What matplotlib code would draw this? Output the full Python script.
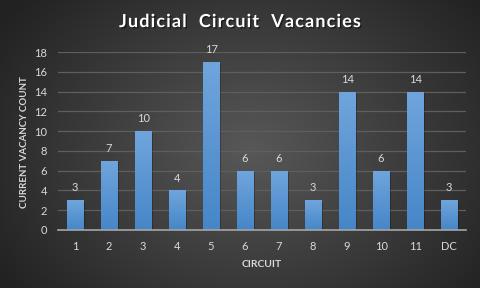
import numpy as np
import matplotlib.pyplot as plt
from matplotlib import patheffects as pe

plt.rcParams['font.family'] = ['Lato', 'DejaVu Sans']

circuits = ["1", "2", "3", "4", "5", "6", "7", "8", "9", "10", "11", "DC"]
vacancies = [3, 7, 10, 4, 17, 6, 6, 3, 14, 6, 14, 3]
y_ticks = [0, 2, 4, 6, 8, 10, 12, 14, 16, 18]

TEXT = "#d9d9d9"

fig = plt.figure(figsize=(4.8, 2.88), dpi=100)

# radial background
bg = fig.add_axes([0, 0, 1, 1])
yy, xx = np.mgrid[0:288, 0:480]
r = np.sqrt(((xx - 250) / 300.0) ** 2 + ((yy - 150) / 230.0) ** 2)
r = np.clip(r, 0, 1)
c0 = np.array([0x58, 0x58, 0x58]) / 255.0
c1 = np.array([0x22, 0x22, 0x22]) / 255.0
img = c0[None, None, :] * (1 - r[..., None]) + c1[None, None, :] * r[..., None]
bg.imshow(img, aspect="auto", extent=[0, 1, 0, 1], origin="upper")
bg.axis("off")

ax = fig.add_axes([0.121, 0.2014, 0.85, 0.618])
ax.patch.set_alpha(0)
x = np.arange(len(circuits))
bars = ax.bar(x, vacancies, width=0.5, color="#5b9bd5", zorder=3,
              path_effects=[pe.SimplePatchShadow(offset=(1.2, -1.2), shadow_rgbFace="black", alpha=0.25),
                            pe.Normal()])

grad = np.linspace(0, 1, 64)[:, None]
top = np.array([0x70, 0xa5, 0xdc]) / 255.0
bot = np.array([0x46, 0x86, 0xc8]) / 255.0
gimg = top[None, None, :] * (1 - grad[..., None]) + bot[None, None, :] * grad[..., None]
for b in bars:
    x0, w, h = b.get_x(), b.get_width(), b.get_height()
    im = ax.imshow(gimg, aspect="auto", extent=[x0, x0 + w, 0, h], origin="upper", zorder=4)
    im.set_clip_path(b)

for xi, v in zip(x, vacancies):
    ax.annotate(str(v), (xi, v), xytext=(0, 5), textcoords="offset points",
                ha="center", va="bottom", color=TEXT, fontsize=8, zorder=5)

ax.set_xlim(-0.5, len(circuits) - 0.5)
ax.set_ylim(0, 18)
ax.set_xticks(x)
ax.set_xticklabels(circuits)
ax.set_yticks(y_ticks)
ax.tick_params(colors=TEXT, labelsize=8, length=0)
ax.tick_params(axis="x", pad=8)
ax.tick_params(axis="y", pad=8)
ax.grid(axis="y", color="#5e5e5e", linewidth=0.9, zorder=0)
for s in ["top", "right", "left"]:
    ax.spines[s].set_visible(False)
ax.spines["bottom"].set_color("#a6a6a6")
ax.spines["bottom"].set_linewidth(1.2)
ax.spines["bottom"].set_zorder(6)

ax.set_xlabel("CIRCUIT", color=TEXT, fontsize=7.5, fontweight="bold", labelpad=6)
ax.set_ylabel("CURRENT VACANCY COUNT", color=TEXT, fontsize=7, fontweight="bold")
ax.yaxis.set_label_coords(-0.072, 0.494)

title = "Judicial  Circuit  Vacancies"
fig.text(0.5, 0.925, "\u200a".join(title),
         ha="center", va="center", color="white", fontsize=13, fontweight="bold",
         path_effects=[pe.withSimplePatchShadow(offset=(1, -1), shadow_rgbFace="black", alpha=0.5)])

fig.savefig("out.png", dpi=100)
